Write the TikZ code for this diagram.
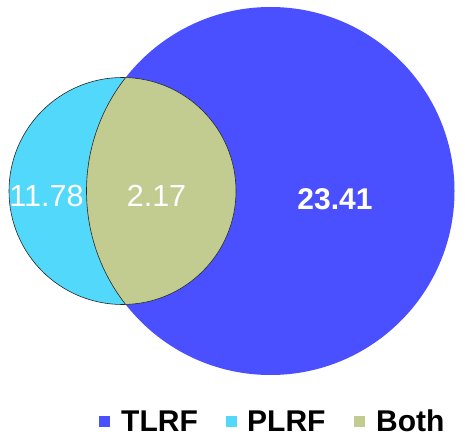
\documentclass[tikz,border=0pt]{standalone}
\usepackage{fontspec}
\setmainfont{Liberation Sans}
\definecolor{tlrf}{RGB}{74,80,255}
\definecolor{plrf}{RGB}{82,216,250}
\definecolor{both}{RGB}{194,204,144}
\tikzset{
  val/.style={text=white, inner sep=0pt, font=\fontsize{30.5}{32}\selectfont},
  bval/.style={val, font=\fontsize{30}{32}\selectfont\bfseries},
  legtext/.style={anchor=west, inner sep=0pt, font=\fontsize{30}{32}\selectfont\bfseries},
  legbox/.style={minimum size=11pt, inner sep=0pt},
  outline/.style={draw=black!85, line width=0.6pt}
}
\begin{document}
\begin{tikzpicture}[x=1pt,y=-1pt]
\useasboundingbox (0,0) rectangle (465,438);
% circles
\fill[tlrf] (270.5,191) circle (184);
\fill[plrf] (122.5,191) circle (113.5);
\begin{scope}
  \clip (122.5,191) circle (113.5);
  \fill[both] (270.5,191) circle (184);
  \draw[outline] (270.5,191) circle (184);
\end{scope}
\draw[outline] (122.5,191) circle (113.5);
% values
\node[val] (a) at (46.5,196) {11.78};
\node[val] (b) at (156.5,196) {2.17};
\node[bval] (c) at (335,199) {23.41};
% legend
\node[legbox, fill=tlrf] (l1) at (104,421) {};
\node[legtext] (t1) at (121,421) {TLRF};
\node[legbox, fill=plrf] (l2) at (231,421) {};
\node[legtext] (t2) at (247,421) {PLRF};
\node[legbox, fill=both] (l3) at (359,421) {};
\node[legtext] (t3) at (376,421) {Both};
\end{tikzpicture}
\end{document}
